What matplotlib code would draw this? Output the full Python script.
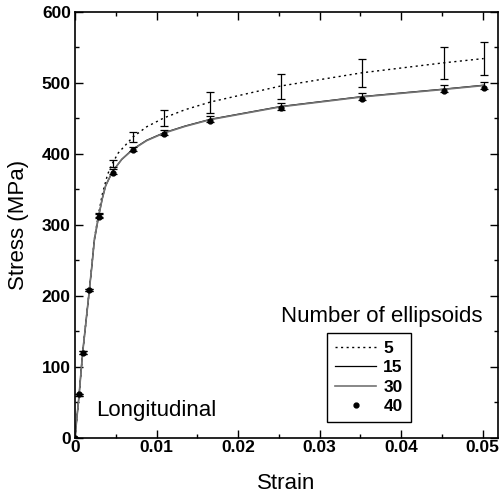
import numpy as np
import matplotlib
matplotlib.use("Agg")
import matplotlib.pyplot as plt
from matplotlib.ticker import MultipleLocator

plt.rcParams['font.family'] = ['Liberation Sans', 'DejaVu Sans']

## data
# points where symbols / error bars are drawn
strain_pts = [0, 0.0005, 0.00094, 0.00176, 0.0029, 0.0046, 0.0071, 0.0109, 0.0166, 0.0252, 0.0352, 0.0452, 0.0501]
s5_pts  = [0, 60, 120, 208, 314, 386.7, 423.5, 450.4, 472.8, 495.3, 514, 528, 534]
err5    = [0, 1, 1.5, 2, 3, 5, 7.5, 11, 14.8, 17.6, 20, 22.7, 23.2]
s30_pts = [0, 60, 120, 208, 312, 375, 407, 430, 449, 467, 481, 491.5, 496.5]
err30   = [0, 1, 1.5, 2, 3, 3, 3, 4, 4, 5, 5, 5, 5]
s40_pts = [0, 61, 120, 207.5, 310.5, 373.3, 405, 427.7, 446.4, 464.2, 477.7, 488.5, 493.2]

# curves
strain_c5 = [0, 0.0005, 0.00094, 0.00176, 0.00205, 0.00237, 0.0029, 0.00335, 0.0040, 0.0046, 0.0053, 0.0071, 0.0088, 0.0109, 0.0135, 0.0166, 0.0252, 0.0352, 0.0452, 0.0501]
s5_c      = [0, 60, 120, 208, 241, 280, 316, 343, 371, 386.7, 401, 423.5, 438, 450.4, 462, 472.8, 495.3, 514, 528, 534]
strain_c  = [0, 0.0005, 0.00094, 0.00176, 0.00205, 0.00237, 0.0029, 0.00335, 0.00376, 0.0046, 0.00573, 0.0071, 0.0088, 0.0109, 0.0135, 0.0166, 0.0252, 0.0352, 0.0452, 0.0501]
s15_c     = [0, 60, 120, 208, 240, 278, 312, 337, 355, 375, 392, 406.5, 419, 429.5, 439, 448.5, 466.5, 480.5, 491, 496.5]
s30_c     = [0, 60, 120, 208, 240, 278, 312, 337, 355, 375, 392, 406, 418.5, 429, 438.5, 448, 466, 480, 490.5, 496]

## PLOT
fig = plt.figure(figsize=(5.01, 4.96), dpi=100)
ax = fig.add_axes([0.1497, 0.1175, 0.8449, 0.8589])

ax.plot(strain_c5, s5_c, color="k", lw=1.0, ls=(0, (1.5, 2.5)), label="5")
ax.plot(strain_c, s15_c, color="k", lw=0.9, label="15")
ax.plot(strain_c, s30_c, color="0.45", lw=1.2, label="30")
ax.plot(strain_pts, s40_pts, ls="none", marker="o", ms=3.5, color="k", label="40")

ax.errorbar(strain_pts, s5_pts, yerr=err5, fmt="none", ecolor="k", elinewidth=0.9, capsize=3, capthick=0.9)
ax.errorbar(strain_pts, s30_pts, yerr=err30, fmt="none", ecolor="k", elinewidth=0.9, capsize=3, capthick=0.9)

ax.set_xlim(0, 0.0519)
ax.set_ylim(0, 600)
ax.xaxis.set_major_locator(MultipleLocator(0.01))
ax.xaxis.set_minor_locator(MultipleLocator(0.005))
ax.yaxis.set_major_locator(MultipleLocator(100))
ax.yaxis.set_minor_locator(MultipleLocator(50))
ax.set_xticks([0, 0.01, 0.02, 0.03, 0.04, 0.05])
ax.set_xticklabels(["0", "0.01", "0.02", "0.03", "0.04", "0.05"])

ax.tick_params(which="both", direction="in", top=True, right=True, width=1.0)
ax.tick_params(which="major", length=5.5)
ax.tick_params(which="minor", length=3)
ax.tick_params(axis="x", pad=1.5)
ax.tick_params(axis="y", pad=3)
for lab in ax.get_xticklabels() + ax.get_yticklabels():
    lab.set_fontsize(12.5)
    lab.set_fontweight("bold")
for sp in ax.spines.values():
    sp.set_linewidth(1.2)

ax.set_xlabel("Strain", fontsize=16)
ax.set_ylabel("Stress (MPa)", fontsize=16)
ax.xaxis.set_label_coords(0.5, -0.083)
ax.yaxis.set_label_coords(-0.108, 0.5)

ax.text(0.051, 0.065, "Longitudinal", transform=ax.transAxes, fontsize=16, va="center", ha="left")
ax.text(0.7245, 0.284, "Number of ellipsoids", transform=ax.transAxes, fontsize=16, va="center", ha="center")

leg = ax.legend(loc="upper left", bbox_to_anchor=(0.595, 0.246), borderaxespad=0,
                fancybox=False, edgecolor="k", framealpha=1, handlelength=2.4,
                handletextpad=0.4, labelspacing=0.25, prop={"size": 12.5, "weight": "bold"},
                borderpad=0.45)
leg.get_frame().set_linewidth(1.0)

fig.savefig("out.png", dpi=100)
